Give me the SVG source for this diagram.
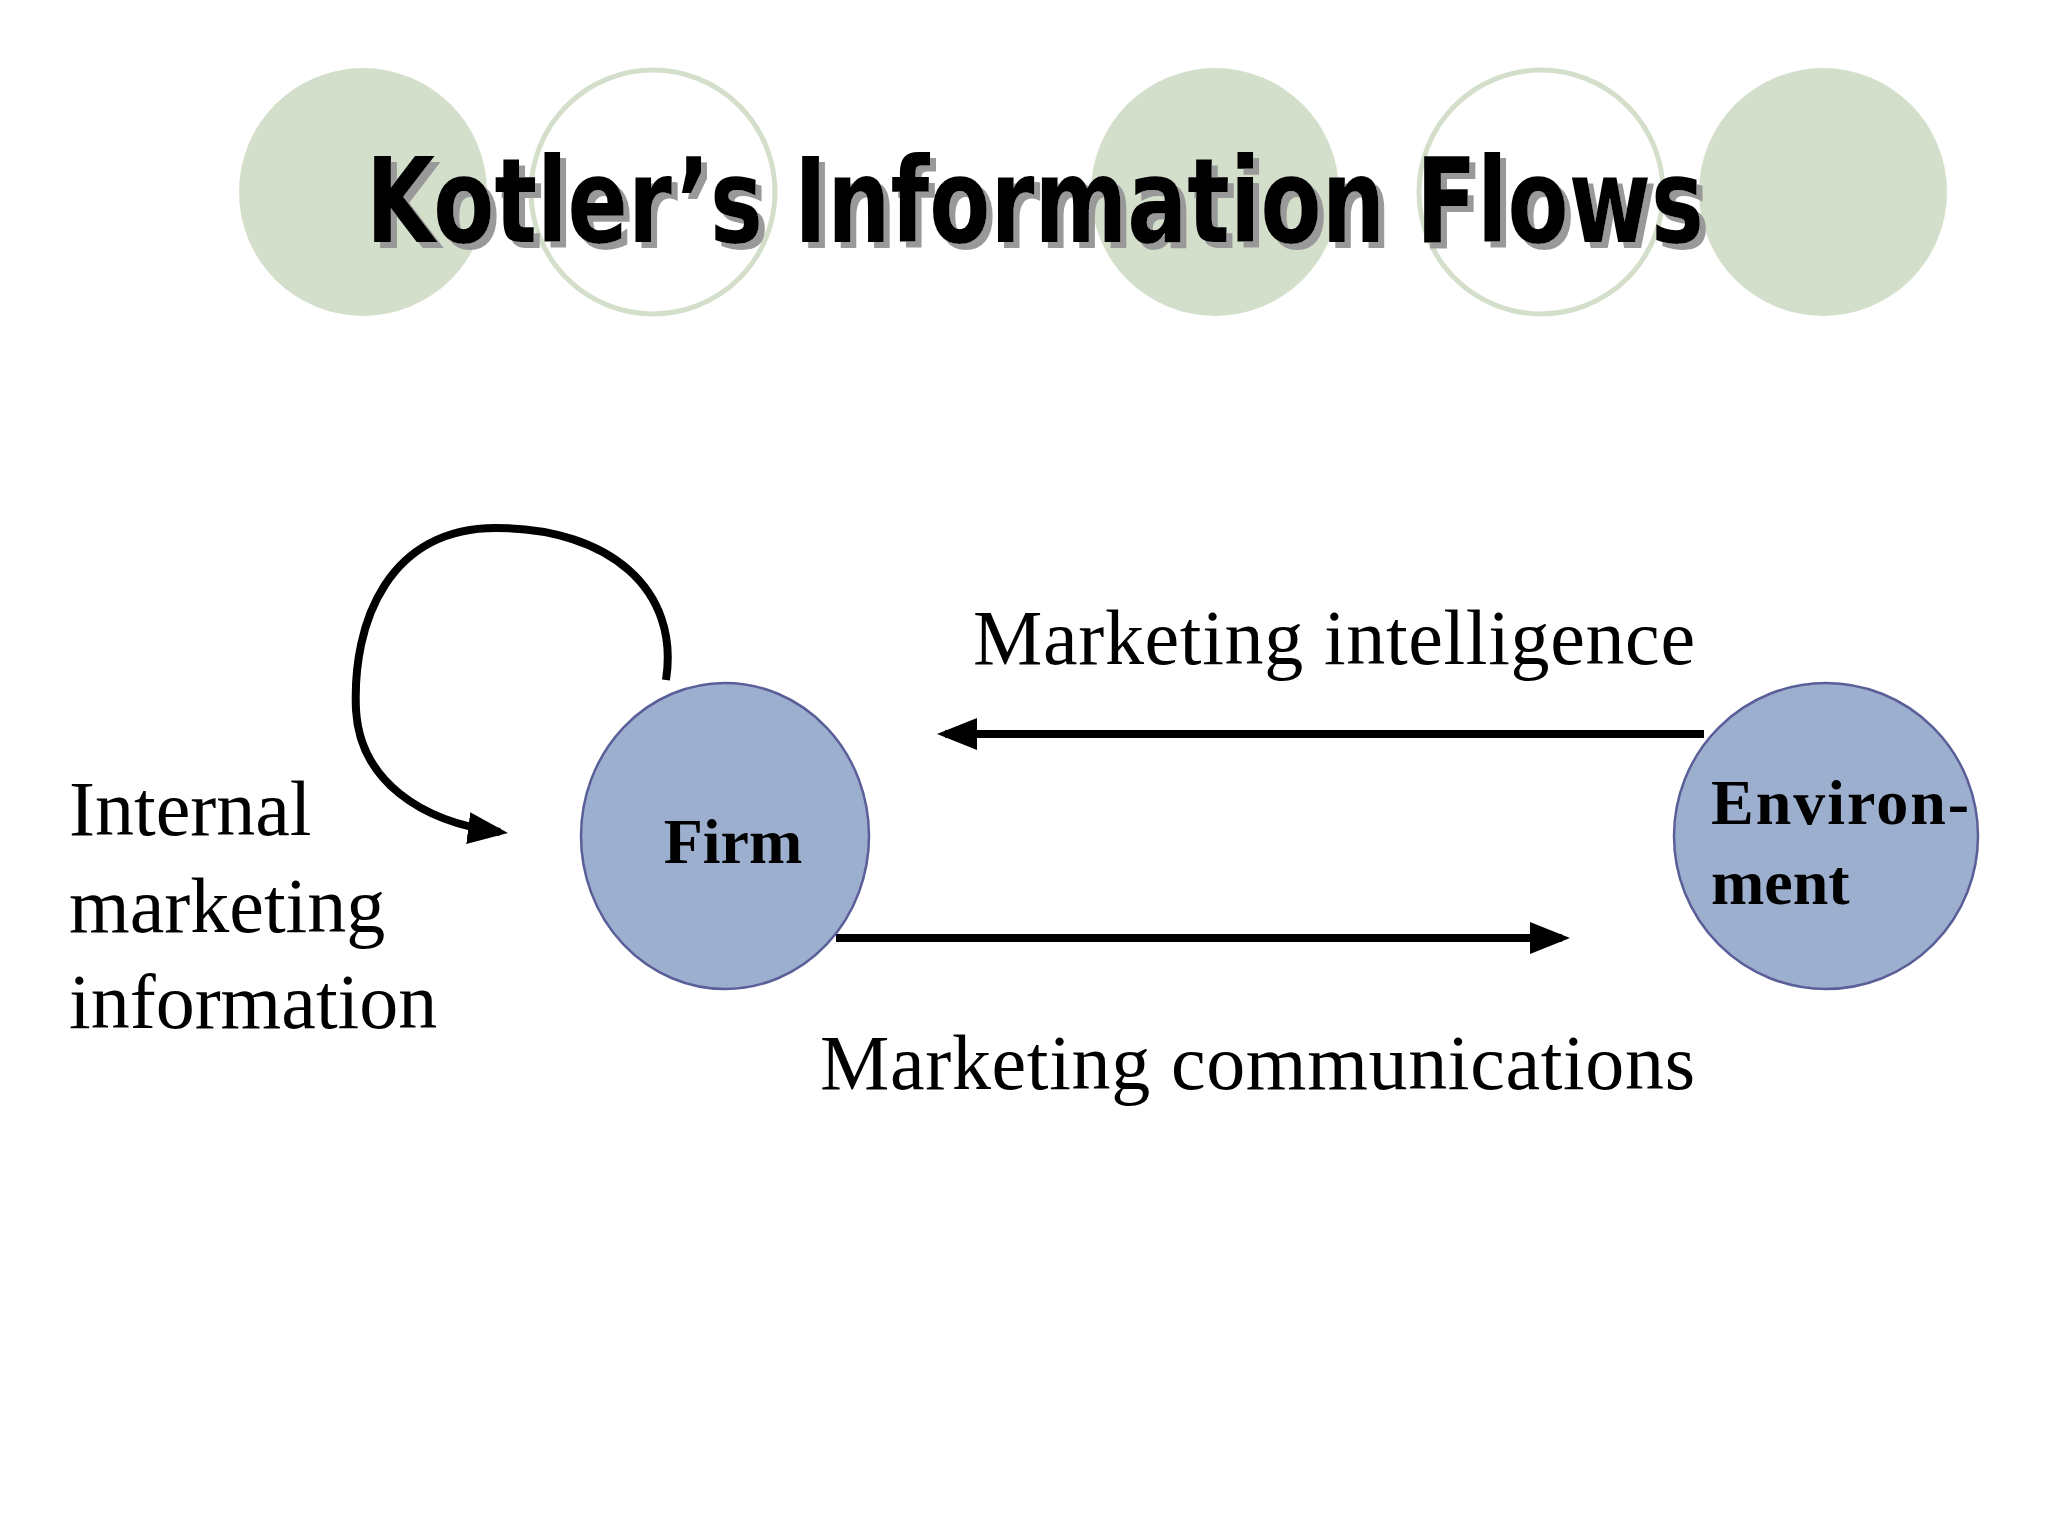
<svg xmlns="http://www.w3.org/2000/svg" width="2048" height="1536" viewBox="0 0 2048 1536">
<defs>
<style>
.deco{fill:#d3dfcb}
.decoo{fill:none;stroke:#d3dfcb;stroke-width:5}
.node{fill:#9dafce;stroke:#5a5f99;stroke-width:2.5}
.lbl{font-family:"Liberation Serif",serif;font-size:78px;fill:#000}
.nl{font-family:"Liberation Serif",serif;font-size:64px;font-weight:bold;fill:#000}
.conn{fill:none;stroke:#000;stroke-width:8}
.title{font-family:"DejaVu Sans Condensed","DejaVu Sans",sans-serif;font-weight:bold;font-size:118px}
</style>
<filter id="sh" x="-5%" y="-20%" width="110%" height="140%"><feDropShadow dx="6" dy="6" stdDeviation="0" flood-color="#999"/></filter>
<marker id="ah" markerWidth="5" markerHeight="4" refX="4" refY="2" orient="auto" markerUnits="strokeWidth"><path d="M0,0 L5,2 L0,4 Z" fill="#000"/></marker>
</defs>
<rect width="2048" height="1536" fill="#fff"/>
<g id="decoration">
<circle class="deco" cx="363" cy="192" r="124"/>
<circle class="decoo" cx="653" cy="192" r="122"/>
<circle class="deco" cx="1215" cy="192" r="124"/>
<circle class="decoo" cx="1541" cy="192" r="122"/>
<circle class="deco" cx="1823" cy="192" r="124"/>
</g>
<g id="title">
<text class="title" x="366" y="242" fill="#000" filter="url(#sh)" textLength="1338" lengthAdjust="spacingAndGlyphs">Kotler’s Information Flows</text>
</g>
<g id="connectors">
<path class="conn" d="M1704 734 L945 734" marker-end="url(#ah)"/>
<path class="conn" d="M836 938 L1562 938" marker-end="url(#ah)"/>
<path class="conn" d="M666 680 C680 590 610 528 496 528 C390 528 352 620 356 710 C360 780 420 822 500 832" marker-end="url(#ah)"/>
</g>
<g id="firm">
<ellipse class="node" cx="725" cy="836" rx="144" ry="153"/>
<text class="nl" x="733" y="863" text-anchor="middle">Firm</text>
</g>
<g id="environment">
<ellipse class="node" cx="1826" cy="836" rx="152" ry="153"/>
<text class="nl" x="1711" y="824" textLength="258">Environ-</text>
<text class="nl" x="1711" y="904">ment</text>
</g>
<g id="labels">
<text class="lbl" x="973" y="664" textLength="722">Marketing intelligence</text>
<text class="lbl" x="820" y="1089" textLength="875">Marketing communications</text>
<text class="lbl" x="69" y="835">Internal</text>
<text class="lbl" x="69" y="932">marketing</text>
<text class="lbl" x="69" y="1028">information</text>
</g>
</svg>
